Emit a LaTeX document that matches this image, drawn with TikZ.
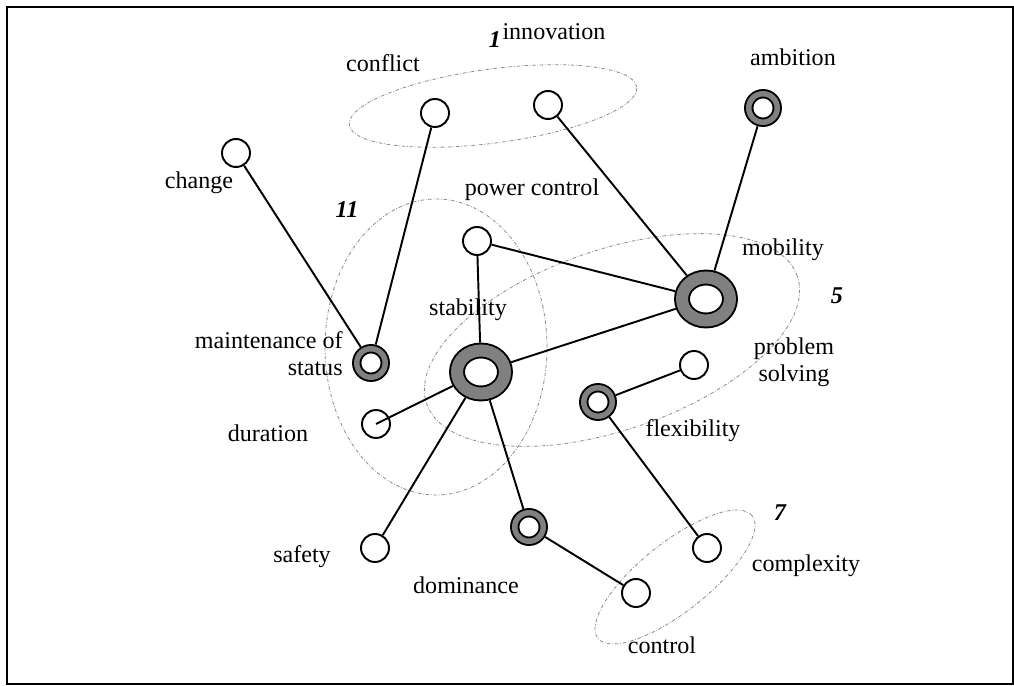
\documentclass[tikz,border=0pt]{standalone}
\usepackage{fontspec}
\setmainfont{Liberation Serif}
\usepackage{tikz}
\usetikzlibrary{shapes.geometric}
\definecolor{RingGray}{HTML}{808080}
\definecolor{ClusterGray}{HTML}{8a8a8a}

\begin{document}
\begin{tikzpicture}[
        value/.style={circle,draw,fill=white,line width=1.1pt,
                      minimum size=0.56cm,inner sep=0pt},
        ring/.style={circle,draw,fill=white,line width=1.1pt,
                     double=RingGray,double distance=0.11cm,
                     minimum size=0.57cm,inner sep=0pt,outer sep=0.095cm},
        core/.style={ellipse,draw,fill=white,line width=1.1pt,
                     double=RingGray,double distance=0.24cm,
                     minimum width=0.96cm,minimum height=0.86cm,
                     inner sep=0pt,outer sep=0.16cm},
        edge/.style={line width=1.1pt},
        cluster/.style={ClusterGray,line width=0.45pt,
                        dash pattern=on 2pt off 1pt on 0.4pt off 1pt},
        txt/.style={inner sep=0pt,align=center,
                    font=\fontsize{13.7}{15.5}\selectfont},
        num/.style={inner sep=0pt,
                    font=\fontsize{13.7}{15.5}\selectfont\bfseries\itshape}]

        \useasboundingbox (0,0) rectangle (20.28,-13.72);
        \draw[line width=1.1pt] (0.14,-0.14) rectangle (20.26,-13.68);

        % value clusters
        \draw[cluster,rotate around={7.5:(9.86,-2.12)}]
            (9.86,-2.12) ellipse [x radius=2.9,y radius=0.74];
        \draw[cluster] (8.72,-6.94) ellipse [x radius=2.22,y radius=2.96];
        \draw[cluster,rotate around={19:(12.24,-6.80)}]
            (12.24,-6.80) ellipse [x radius=3.92,y radius=1.80];
        \draw[cluster,rotate around={38.5:(13.5,-11.54)}]
            (13.5,-11.54) ellipse [x radius=1.97,y radius=0.69];

        % values
        \node[value] (conflict) at (8.70,-2.26)  {};
        \node[value] (innov)    at (10.96,-2.10) {};
        \node[ring]  (ambit)    at (15.26,-2.16) {};
        \node[value] (change)   at (4.72,-3.06)  {};
        \node[value] (power)    at (9.54,-4.82)  {};
        \node[ring]  (maint)    at (7.42,-7.26)  {};
        \node[core]  (stab)     at (9.62,-7.44)  {};
        \node[value] (dur)      at (7.52,-8.48)  {};
        \node[core]  (mob)      at (14.12,-5.98) {};
        \node[value] (prob)     at (13.88,-7.30) {};
        \node[ring]  (flex)     at (11.96,-8.04) {};
        \node[value] (compl)    at (14.14,-10.96){};
        \node[value] (ctrl)     at (12.72,-11.86){};
        \node[value] (safety)   at (7.50,-10.96) {};
        \node[ring]  (dom)      at (10.58,-10.54){};

        % labels
        \node[num] (n1)  at (9.90,-0.80)  {1};
        \node[num] (n11) at (6.94,-4.20)  {11};
        \node[num] (n5)  at (16.74,-5.92) {5};
        \node[num] (n7)  at (15.60,-10.26){7};

        \node[txt] (innov-l)    at (11.08,-0.64) {innovation};
        \node[txt] (conflict-l) at (7.66,-1.26)  {conflict};
        \node[txt] (ambit-l)    at (15.86,-1.14) {ambition};
        \node[txt] (change-l)   at (3.98,-3.66)  {change};
        \node[txt] (power-l)    at (10.64,-3.80) {power control};
        \node[txt] (mob-l)      at (15.66,-5.00) {mobility};
        \node[txt] (stab-l)     at (9.36,-6.20)  {stability};
        \node[txt,align=right,anchor=east] (maint-l) at (6.86,-7.08)
            {maintenance of\\status};
        \node[txt] (prob-l)     at (15.88,-7.24) {problem\\solving};
        \node[txt] (dur-l)      at (5.36,-8.66)  {duration};
        \node[txt] (flex-l)     at (13.86,-8.62) {flexibility};
        \node[txt] (compl-l)    at (16.12,-11.32){complexity};
        \node[txt] (safety-l)   at (6.04,-11.14) {safety};
        \node[txt] (dom-l)      at (9.32,-11.70) {dominance};
        \node[txt] (ctrl-l)     at (13.24,-12.90){control};

        % links
        \foreach \a/\b in {change/maint,conflict/maint,innov/mob,ambit/mob,
                           power/mob,power/stab,stab/mob,stab/safety,
                           stab/dom,dom/ctrl,prob/flex,flex/compl}{
          \draw[edge] (\a) -- (\b);
        }
        \draw[edge] (stab) -- (dur.center);
      \end{tikzpicture}
\end{document}
